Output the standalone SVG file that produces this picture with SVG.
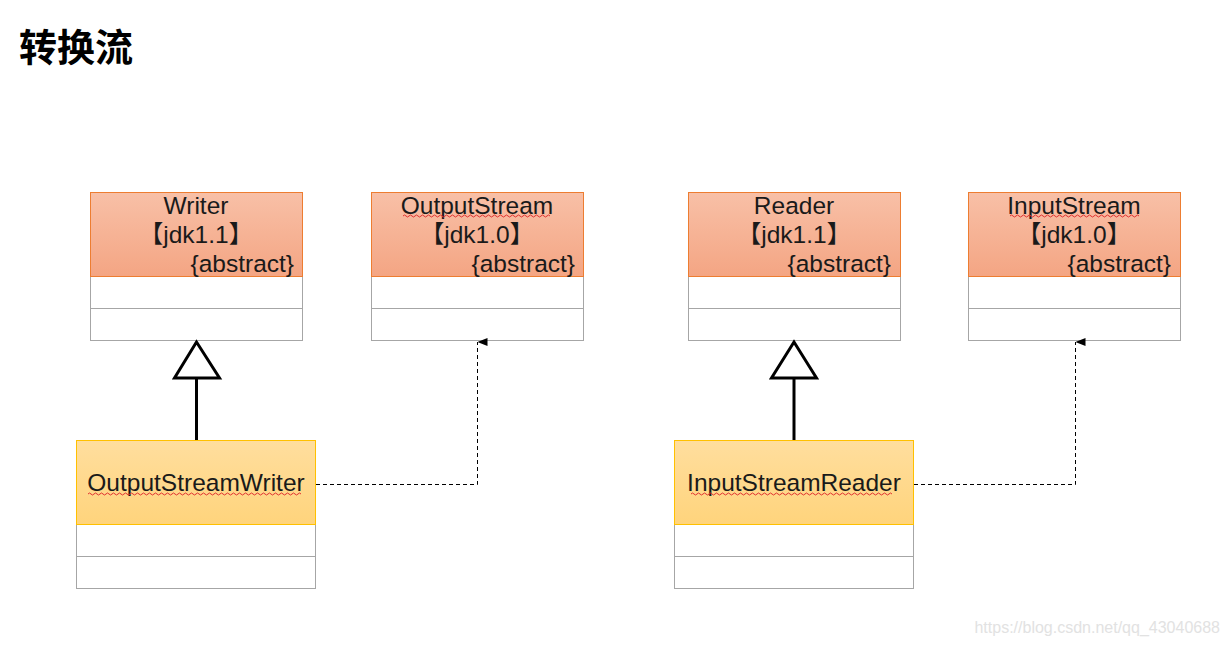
<svg xmlns="http://www.w3.org/2000/svg" width="1228" height="645" viewBox="0 0 1228 645">
<defs>
<linearGradient id="gHead" x1="0" y1="0" x2="0" y2="1"><stop offset="0" stop-color="#F8C0A7"/><stop offset="1" stop-color="#F4A583"/></linearGradient>
<linearGradient id="gSub" x1="0" y1="0" x2="0" y2="1"><stop offset="0" stop-color="#FFDE9E"/><stop offset="1" stop-color="#FFD47C"/></linearGradient>
<marker id="arr" viewBox="0 0 8 10" refX="4" refY="0" markerWidth="8" markerHeight="10" markerUnits="userSpaceOnUse" orient="auto-start-reverse"><path d="M0,10 L4,0 L8,10 Z" fill="#000"/></marker>
<style>
.t{font-family:"Liberation Sans","Noto Sans CJK SC",sans-serif;font-size:24.5px;fill:#1a1a1a}
.hd{fill:url(#gHead);stroke:#ED7D31;stroke-width:1}
.sub{fill:url(#gSub);stroke:#FFC000;stroke-width:1}
.row{fill:#fff;stroke:#A6A6A6;stroke-width:1}
.sq{fill:none;stroke:#E03030;stroke-width:1}
.dash{fill:none;stroke:#000;stroke-width:1;stroke-dasharray:4 3}
.gen{fill:none;stroke:#000;stroke-width:3}
</style>
</defs>
<rect width="1228" height="645" fill="#fff"/>
<text x="19" y="61" font-family="'Noto Sans CJK SC',sans-serif" font-size="38" font-weight="bold" fill="#000">转换流</text>

<g id="writer">
<rect class="row" x="90.5" y="276.5" width="212" height="32"/>
<rect class="row" x="90.5" y="308.5" width="212" height="32"/>
<rect class="hd" x="90.5" y="192.5" width="212" height="84"/>
<text class="t" x="196" y="214" text-anchor="middle">Writer</text>
<text class="t" x="196" y="243" text-anchor="middle">【jdk1.1】</text>
<text class="t" x="294" y="272" text-anchor="end">{abstract}</text>
</g>

<g id="outputstream">
<rect class="row" x="371.5" y="276.5" width="212" height="32"/>
<rect class="row" x="371.5" y="308.5" width="212" height="32"/>
<rect class="hd" x="371.5" y="192.5" width="212" height="84"/>
<text class="t" x="477" y="214" text-anchor="middle">OutputStream</text>
<path class="sq" d="M403,216 q1.5,-2 3,0 t3,0 t3,0 t3,0 t3,0 t3,0 t3,0 t3,0 t3,0 t3,0 t3,0 t3,0 t3,0 t3,0 t3,0 t3,0 t3,0 t3,0 t3,0 t3,0 t3,0 t3,0 t3,0 t3,0 t3,0 t3,0 t3,0 t3,0 t3,0 t3,0 t3,0 t3,0 t3,0 t3,0 t3,0 t3,0 t3,0 t3,0 t3,0 t3,0 t3,0 t3,0 t3,0 t3,0 t3,0 t3,0 t3,0 t3,0 t3,0"/>
<text class="t" x="477" y="243" text-anchor="middle">【jdk1.0】</text>
<text class="t" x="575" y="272" text-anchor="end">{abstract}</text>
</g>

<g id="reader">
<rect class="row" x="688.5" y="276.5" width="212" height="32"/>
<rect class="row" x="688.5" y="308.5" width="212" height="32"/>
<rect class="hd" x="688.5" y="192.5" width="212" height="84"/>
<text class="t" x="794" y="214" text-anchor="middle">Reader</text>
<text class="t" x="794" y="243" text-anchor="middle">【jdk1.1】</text>
<text class="t" x="891" y="272" text-anchor="end">{abstract}</text>
</g>

<g id="inputstream">
<rect class="row" x="968.5" y="276.5" width="212" height="32"/>
<rect class="row" x="968.5" y="308.5" width="212" height="32"/>
<rect class="hd" x="968.5" y="192.5" width="212" height="84"/>
<text class="t" x="1074" y="214" text-anchor="middle">InputStream</text>
<path class="sq" d="M1010,216 q1.5,-2 3,0 t3,0 t3,0 t3,0 t3,0 t3,0 t3,0 t3,0 t3,0 t3,0 t3,0 t3,0 t3,0 t3,0 t3,0 t3,0 t3,0 t3,0 t3,0 t3,0 t3,0 t3,0 t3,0 t3,0 t3,0 t3,0 t3,0 t3,0 t3,0 t3,0 t3,0 t3,0 t3,0 t3,0 t3,0 t3,0 t3,0 t3,0 t3,0 t3,0 t3,0 t3,0 t3,0"/>
<text class="t" x="1074" y="243" text-anchor="middle">【jdk1.0】</text>
<text class="t" x="1171" y="272" text-anchor="end">{abstract}</text>
</g>

<g id="outputstreamwriter">
<rect class="row" x="76.5" y="524.5" width="239" height="32"/>
<rect class="row" x="76.5" y="556.5" width="239" height="32"/>
<rect class="sub" x="76.5" y="440.5" width="239" height="84"/>
<text class="t" x="196" y="491" text-anchor="middle">OutputStreamWriter</text>
<path class="sq" d="M88,494 q1.5,-2 3,0 t3,0 t3,0 t3,0 t3,0 t3,0 t3,0 t3,0 t3,0 t3,0 t3,0 t3,0 t3,0 t3,0 t3,0 t3,0 t3,0 t3,0 t3,0 t3,0 t3,0 t3,0 t3,0 t3,0 t3,0 t3,0 t3,0 t3,0 t3,0 t3,0 t3,0 t3,0 t3,0 t3,0 t3,0 t3,0 t3,0 t3,0 t3,0 t3,0 t3,0 t3,0 t3,0 t3,0 t3,0 t3,0 t3,0 t3,0 t3,0 t3,0 t3,0 t3,0 t3,0 t3,0 t3,0 t3,0 t3,0 t3,0 t3,0 t3,0 t3,0 t3,0 t3,0 t3,0 t3,0 t3,0 t3,0 t3,0 t3,0 t3,0 t3,0"/>
</g>

<g id="inputstreamreader">
<rect class="row" x="674.5" y="524.5" width="239" height="32"/>
<rect class="row" x="674.5" y="556.5" width="239" height="32"/>
<rect class="sub" x="674.5" y="440.5" width="239" height="84"/>
<text class="t" x="794" y="491" text-anchor="middle" font-size="24">InputStreamReader</text>
<path class="sq" d="M691,494 q1.5,-2 3,0 t3,0 t3,0 t3,0 t3,0 t3,0 t3,0 t3,0 t3,0 t3,0 t3,0 t3,0 t3,0 t3,0 t3,0 t3,0 t3,0 t3,0 t3,0 t3,0 t3,0 t3,0 t3,0 t3,0 t3,0 t3,0 t3,0 t3,0 t3,0 t3,0 t3,0 t3,0 t3,0 t3,0 t3,0 t3,0 t3,0 t3,0 t3,0 t3,0 t3,0 t3,0 t3,0 t3,0 t3,0 t3,0 t3,0 t3,0 t3,0 t3,0 t3,0 t3,0 t3,0 t3,0 t3,0 t3,0 t3,0 t3,0 t3,0 t3,0 t3,0 t3,0 t3,0 t3,0 t3,0 t3,0 t3,0"/>
</g>

<g id="connectors">
<line class="gen" x1="196.5" y1="440" x2="196.5" y2="378"/>
<path d="M196.5,342 L174.5,378 L219.5,378 Z" fill="#fff" stroke="#000" stroke-width="3" stroke-linejoin="miter"/>
<line class="gen" x1="794" y1="440" x2="794" y2="378"/>
<path d="M794,342 L771.5,378 L816.5,378 Z" fill="#fff" stroke="#000" stroke-width="3" stroke-linejoin="miter"/>
<path class="dash" d="M316,484.5 H477.5 V342" marker-end="url(#arr)"/>
<path class="dash" d="M914,484.5 H1075.5 V342" marker-end="url(#arr)"/>
</g>

<text x="1220" y="633" text-anchor="end" font-family="'Liberation Sans',sans-serif" font-size="16" fill="#e2e2e2">https://blog.csdn.net/qq_43040688</text>
</svg>
